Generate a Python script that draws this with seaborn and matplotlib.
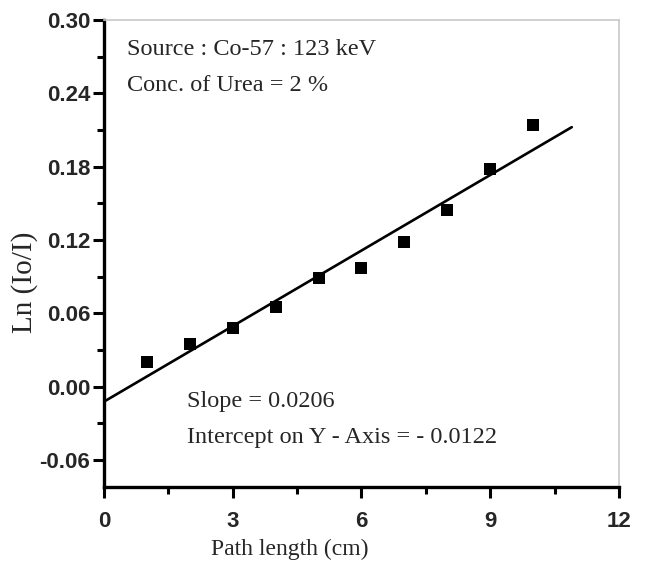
import matplotlib
matplotlib.use("Agg")
import matplotlib.pyplot as plt
from matplotlib.ticker import MultipleLocator
import seaborn as sns
import numpy as np
import pandas as pd

# Data
path_length = [1, 2, 3, 4, 5, 6, 7, 8, 9, 10]
ln_io_i = [0.020, 0.0347, 0.0478, 0.0655, 0.0887, 0.0974, 0.1182, 0.1446, 0.178, 0.2142]
slope = 0.0206
intercept = -0.0122
fit_x_range = [0.0, 10.9]

x_ticks = [0, 3, 6, 9, 12]
y_ticks = [-0.06, 0.00, 0.06, 0.12, 0.18, 0.24, 0.30]
annot_top = ["Source : Co-57 : 123 keV", "Conc. of Urea = 2 %"]
annot_bottom = ["Slope = 0.0206", "Intercept on Y - Axis = - 0.0122"]

sns.set_style("white")
plt.rcParams['font.family'] = ['Liberation Serif', 'DejaVu Serif']

fig = plt.figure(figsize=(6.47, 5.66), dpi=100)
ax = fig.add_axes([0.1607, 0.1396, 0.7960, 0.8251])

df = pd.DataFrame({"x": path_length, "y": ln_io_i})
fit_x = np.array(fit_x_range)
fit_df = pd.DataFrame({"x": fit_x, "y": slope * fit_x + intercept})

sns.lineplot(data=fit_df, x="x", y="y", ax=ax, color="black", linewidth=1.9)
sns.scatterplot(data=df, x="x", y="y", ax=ax, marker="s", s=80, color="black",
                edgecolor="black", linewidth=0, zorder=3)

ax.set_xlim(0, 12)
ax.set_ylim(-0.082, 0.30)
ax.set_xticks(x_ticks)
ax.set_yticks(y_ticks)
ax.xaxis.set_minor_locator(MultipleLocator(1.5))
ax.yaxis.set_minor_locator(MultipleLocator(0.03))
ax.set_xticklabels([str(t) for t in x_ticks], fontfamily="Liberation Sans",
                   fontweight="bold", fontsize=16)
ax.set_yticklabels([f"{t:.2f}" for t in y_ticks], fontfamily="Liberation Sans",
                   fontweight="bold", fontsize=16)
ax.tick_params(axis="x", which="major", direction="out", length=8, width=2.2,
               color="black", pad=9, bottom=True)
ax.tick_params(axis="y", which="major", direction="out", length=8, width=2.2,
               color="black", pad=2, left=True)
ax.tick_params(axis="both", which="minor", direction="out", length=5, width=2.2,
               color="black", bottom=True, left=True)

for side in ["left", "bottom"]:
    ax.spines[side].set_color("black")
    ax.spines[side].set_linewidth(2.4)
for side in ["top", "right"]:
    ax.spines[side].set_color("#c8c8c8")
    ax.spines[side].set_linewidth(1.2)

ax.set_xlabel("Path length (cm)", fontsize=17)
ax.xaxis.set_label_coords(0.361, -0.110)
ax.set_ylabel("Ln (Io/I)", fontsize=21)
ax.yaxis.set_label_coords(-0.128, 0.439)

ax.text(0.54, 0.2715, annot_top[0], fontsize=17.5, va="baseline", ha="left")
ax.text(0.54, 0.2420, annot_top[1], fontsize=17.5, va="baseline", ha="left")
ax.text(1.93, -0.0166, annot_bottom[0], fontsize=17.5, va="baseline", ha="left")
ax.text(1.93, -0.0461, annot_bottom[1], fontsize=17.5, va="baseline", ha="left")

fig.savefig("out.png", dpi=100)
